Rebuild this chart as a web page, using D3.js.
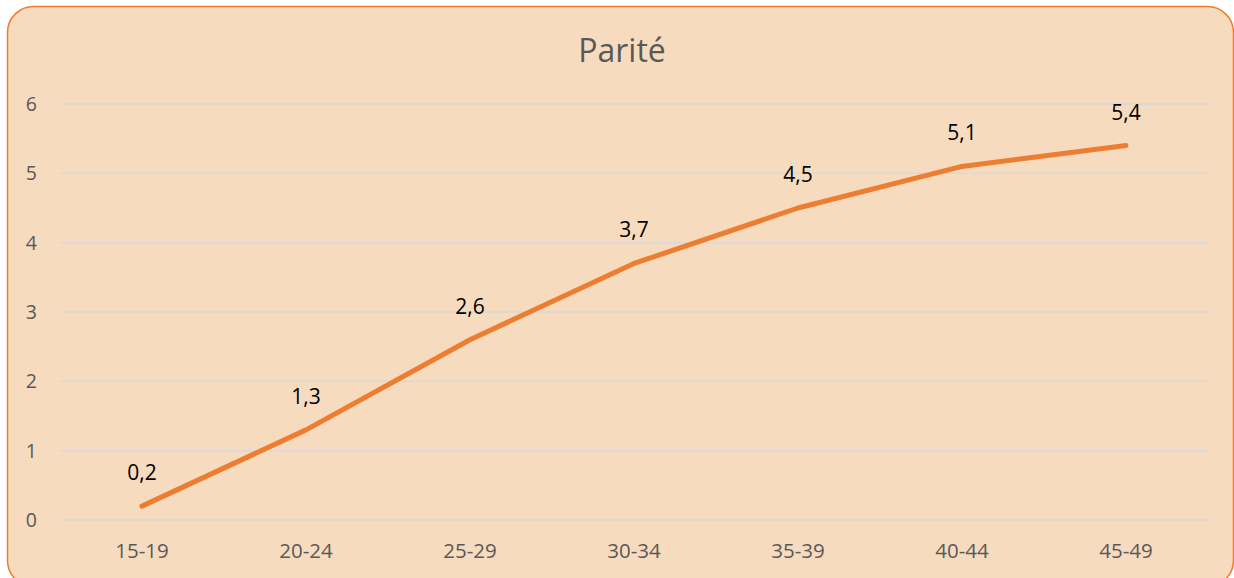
<!DOCTYPE html>
<html><head><meta charset="utf-8">
<script src="https://cdn.jsdelivr.net/npm/d3@7"></script>
<style>html,body{margin:0;padding:0;background:#fff;overflow:hidden}</style>
</head><body>
<svg id="c" width="1234" height="578"></svg>
<script>
const categories = ["15-19","20-24","25-29","30-34","35-39","40-44","45-49"];
const values = [0.2,1.3,2.6,3.7,4.5,5.1,5.4];
const labels = ["0,2","1,3","2,6","3,7","4,5","5,1","5,4"];
const yTicks = [0,1,2,3,4,5,6];
const title = "Parité";

const svg = d3.select("#c");
svg.append("rect").attr("x",7.5).attr("y",6.5).attr("width",1226).attr("height",580)
  .attr("rx",26).attr("ry",26).attr("fill","#F7DBBE").attr("stroke","#ED7D31").attr("stroke-width",1.5);

const x = d3.scaleBand().domain(categories).range([60,1208]);
const y = d3.scaleLinear().domain([0,6]).range([520,104]);
const font = "'Open Sans', 'Liberation Sans', sans-serif";

svg.append("g").selectAll("line").data(yTicks).join("line")
  .attr("x1",60).attr("x2",1208).attr("y1",d=>y(d)).attr("y2",d=>y(d))
  .attr("stroke","#D9D9D9").attr("stroke-width",1.5);

svg.append("g").selectAll("text").data(yTicks).join("text")
  .attr("x",37).attr("y",d=>y(d)).attr("dy","0.36em").attr("text-anchor","end")
  .attr("font-family",font).attr("font-size",19.5).attr("fill","#595959").text(d=>d);

svg.append("g").selectAll("text").data(categories).join("text")
  .attr("x",d=>x(d)+x.bandwidth()/2).attr("y",558).attr("text-anchor","middle")
  .attr("font-family",font).attr("font-size",20.5).attr("fill","#595959").text(d=>d);

svg.append("text").attr("x",622).attr("y",62).attr("text-anchor","middle")
  .attr("font-family",font).attr("font-size",32).attr("fill","#595959").text(title);

const line = d3.line().x((d,i)=>x(categories[i])+x.bandwidth()/2).y(d=>y(d));
svg.append("path").datum(values).attr("d",line).attr("fill","none")
  .attr("stroke","#ED7D31").attr("stroke-width",5).attr("stroke-linecap","round").attr("stroke-linejoin","round");

svg.append("g").selectAll("text").data(values).join("text")
  .attr("x",(d,i)=>x(categories[i])+x.bandwidth()/2).attr("y",d=>y(d)-26)
  .attr("text-anchor","middle").attr("font-family",font).attr("font-size",21).attr("fill","#000")
  .text((d,i)=>labels[i]);
</script>
</body></html>
